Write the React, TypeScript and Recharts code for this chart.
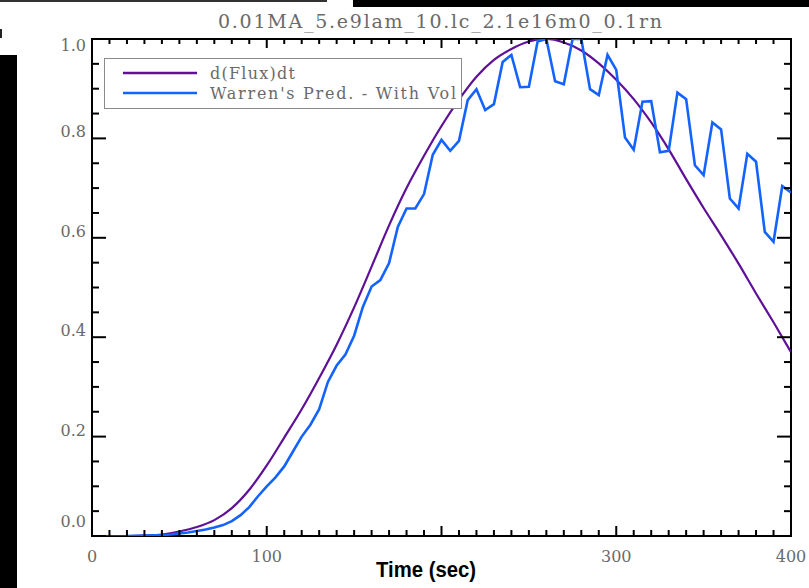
import React from 'react';
import { LineChart, Line, XAxis, YAxis, Legend, ReferenceArea } from 'recharts';

const TITLE = '0.01MA_5.e9lam_10.lc_2.1e16m0_0.1rn';
const X_LABEL = 'Time (sec)';
const FLUX_NAME = 'd(Flux)dt';
const WARREN_NAME = "Warren's Pred. - With Vol";

// d(Flux)dt, sampled every 10 s
const fluxTime = [
  0, 10, 20, 30, 40, 50, 60, 70, 80, 90, 100, 110, 120, 130, 140, 150, 160, 170, 180, 190, 200,
  210, 220, 230, 240, 250, 260, 270, 280, 290, 300, 310, 320, 330, 340, 350, 360, 370, 380, 390, 400,
];
const fluxValues = [
  0, 0, 0, 0.001, 0.003, 0.009, 0.018, 0.032, 0.056, 0.093, 0.142, 0.198, 0.255, 0.318, 0.385,
  0.46, 0.542, 0.625, 0.7, 0.765, 0.825, 0.878, 0.924, 0.958, 0.98, 0.995, 1.0, 0.993, 0.977,
  0.951, 0.918, 0.879, 0.832, 0.778, 0.718, 0.66, 0.605, 0.548, 0.488, 0.43, 0.37,
];

// Warren's prediction, sampled every 5 s
const warrenTime = [
  20, 25, 30, 35, 40, 45, 50, 55, 60, 65, 70, 75, 80, 85, 90, 95, 100, 105, 110, 115, 120, 125,
  130, 135, 140, 145, 150, 155, 160, 165, 170, 175, 180, 185, 190, 195, 200, 205, 210, 215, 220,
  225, 230, 235, 240, 245, 250, 255, 260, 265, 270, 275, 280, 285, 290, 295, 300, 305, 310, 315,
  320, 325, 330, 335, 340, 345, 350, 355, 360, 365, 370, 375, 380, 385, 390, 395, 400,
];
const warrenValues = [
  0, 0.0005, 0.001, 0.0015, 0.002, 0.003, 0.005, 0.007, 0.01, 0.013, 0.017, 0.022, 0.03, 0.042,
  0.058, 0.08, 0.1, 0.118, 0.14, 0.17, 0.2, 0.224, 0.255, 0.31, 0.343, 0.365, 0.403, 0.461, 0.502,
  0.515, 0.549, 0.622, 0.659, 0.659, 0.688, 0.767, 0.797, 0.775, 0.795, 0.877, 0.899, 0.857, 0.869,
  0.954, 0.968, 0.903, 0.904, 0.995, 1.0, 0.915, 0.909, 1.0, 1.0, 0.899, 0.887, 0.968, 0.938,
  0.802, 0.777, 0.874, 0.875, 0.772, 0.775, 0.892, 0.879, 0.746, 0.726, 0.832, 0.818, 0.679,
  0.659, 0.769, 0.753, 0.612, 0.592, 0.704, 0.691,
];

const xLabelTicks = [0, 100, 300, 400];
const xTicks = Array.from({ length: 41 }, (_, i) => i * 10);
const yTicks = Array.from({ length: 21 }, (_, i) => i * 0.05);

const fluxData = fluxTime.map((t, i) => ({ t, v: fluxValues[i] }));
const warrenData = warrenTime.map((t, i) => ({ t, v: warrenValues[i] }));

const PURPLE = '#5e1197';
const BLUE = '#1463ff';
const GRAY = '#6a6a6a';
const SERIF = '"DejaVu Serif", serif';
const LEGEND_ORDER = [FLUX_NAME, WARREN_NAME];
const LEGEND_TEXT_WIDTH: Record<string, number> = { [FLUX_NAME]: 85, [WARREN_NAME]: 246 };

const isMajorX = (v: number) => v % 100 === 0;
const isMajorY = (v: number) => Math.abs(v * 5 - Math.round(v * 5)) < 1e-6;

// IDL style: ticks point into the plot, labels outside
const BottomTick = ({ x, y, payload }: any) => {
  const v = payload.value;
  return (
    <g>
      <line x1={x} x2={x} y1={y} y2={y - (isMajorX(v) ? 10 : 6)} stroke="#000" strokeWidth={2} />
      {xLabelTicks.includes(v) && (
        <text x={x} y={y + 26} textAnchor="middle" fontFamily={SERIF} fontSize={16} fill={GRAY}>
          {v}
        </text>
      )}
    </g>
  );
};

const TopTick = ({ x, y, payload }: any) => (
  <line x1={x} x2={x} y1={y} y2={y + (isMajorX(payload.value) ? 9 : 5)} stroke="#000" strokeWidth={2} />
);

const LeftTick = ({ x, y, payload }: any) => {
  const v = payload.value;
  const major = isMajorY(v);
  let dy = -1;
  if (v > 0.99) dy = 12;
  if (v < 0.01) dy = -9;
  return (
    <g>
      <line x1={x} x2={x + (major ? 14 : 7)} y1={y} y2={y} stroke="#000" strokeWidth={2} />
      {major && (
        <text x={x - 6} y={y + dy} textAnchor="end" fontFamily={SERIF} fontSize={16} fill={GRAY}>
          {v.toFixed(1)}
        </text>
      )}
    </g>
  );
};

const RightTick = ({ x, y, payload }: any) => (
  <line x1={x} x2={x - (isMajorY(payload.value) ? 14 : 7)} y1={y} y2={y} stroke="#000" strokeWidth={2} />
);

const LegendBox = ({ payload }: any) => {
  const items = [...(payload || [])].sort(
    (a: any, b: any) => LEGEND_ORDER.indexOf(a.value) - LEGEND_ORDER.indexOf(b.value),
  );
  return (
    <svg width={358} height={51} style={{ display: 'block' }}>
      <rect x={0.5} y={0.5} width={357} height={50} fill="#fff" stroke="#8a8a8a" strokeWidth={1} />
      {items.map((item: any, i: number) => (
        <g key={item.value}>
          <line x1={19} x2={93} y1={15 + i * 20} y2={15 + i * 20} stroke={item.color} strokeWidth={2.5} />
          <text
            x={106}
            y={21 + i * 20}
            fontFamily={SERIF}
            fontSize={16}
            fill={GRAY}
            textLength={LEGEND_TEXT_WIDTH[item.value]}
            lengthAdjust="spacing"
          >
            {item.value}
          </text>
        </g>
      ))}
    </svg>
  );
};

const App: React.FC = () => {
  return (
    <div style={{ position: 'absolute', left: 0, top: 0, width: 809, height: 588, background: '#fff', overflow: 'hidden' }}>
      <div style={{ position: 'absolute', left: 0, top: 0, width: 327, height: 2, background: '#333' }} />
      <div style={{ position: 'absolute', left: 353, top: 0, width: 456, height: 7, background: '#000' }} />
      <div style={{ position: 'absolute', left: 0, top: 55, width: 17, height: 533, background: '#000' }} />
      <div style={{ position: 'absolute', left: 0, top: 29, width: 2, height: 9, background: '#222' }} />

      <svg width={809} height={40} style={{ position: 'absolute', left: 0, top: 0 }}>
        <text x={440} y={28} textAnchor="middle" fontFamily={SERIF} fontSize={19} fill={GRAY} textLength={444} lengthAdjust="spacing">
          {TITLE}
        </text>
      </svg>

      <div style={{ position: 'absolute', left: 0, top: 0 }}>
        <LineChart width={809} height={588} margin={{ top: 38, right: 17, bottom: 0, left: 0 }}>
          <XAxis
            dataKey="t"
            type="number"
            domain={[0, 400]}
            ticks={xTicks}
            interval={0}
            allowDataOverflow
            height={52}
            tickSize={0}
            tickMargin={0}
            tickLine={false}
            axisLine={false}
            tick={BottomTick}
          />
          <XAxis
            xAxisId="top"
            orientation="top"
            dataKey="t"
            type="number"
            domain={[0, 400]}
            ticks={xTicks}
            interval={0}
            allowDataOverflow
            height={1}
            tickSize={0}
            tickMargin={0}
            tickLine={false}
            axisLine={false}
            tick={TopTick}
          />
          <YAxis
            type="number"
            domain={[0, 1]}
            ticks={yTicks}
            interval={0}
            allowDataOverflow
            width={92}
            tickSize={0}
            tickMargin={0}
            tickLine={false}
            axisLine={false}
            tick={LeftTick}
          />
          <YAxis
            yAxisId="right"
            orientation="right"
            type="number"
            domain={[0, 1]}
            ticks={yTicks}
            interval={0}
            allowDataOverflow
            width={1}
            tickSize={0}
            tickMargin={0}
            tickLine={false}
            axisLine={false}
            tick={RightTick}
          />
          <ReferenceArea x1={0} x2={400} y1={0} y2={1} fill="none" stroke="#000" strokeWidth={2} ifOverflow="visible" />
          <Legend
            layout="horizontal"
            verticalAlign="middle"
            align="center"
            wrapperStyle={{ position: 'absolute', left: 104, top: 58, width: 358, height: 51 }}
            content={LegendBox}
          />
          <Line
            data={fluxData}
            dataKey="v"
            name={FLUX_NAME}
            type="monotone"
            stroke={PURPLE}
            strokeWidth={2.2}
            dot={false}
            activeDot={false}
            isAnimationActive={false}
          />
          <Line
            data={warrenData}
            dataKey="v"
            name={WARREN_NAME}
            type="linear"
            stroke={BLUE}
            strokeWidth={2.6}
            dot={false}
            activeDot={false}
            isAnimationActive={false}
          />
        </LineChart>
      </div>

      <svg width={809} height={40} style={{ position: 'absolute', left: 0, top: 548 }}>
        <text
          x={426}
          y={29}
          textAnchor="middle"
          fontFamily='"Liberation Sans Narrow", "Liberation Sans", Arial, sans-serif'
          fontWeight="bold"
          fontSize={22}
          fill="#000"
          textLength={100}
          lengthAdjust="spacingAndGlyphs"
        >
          {X_LABEL}
        </text>
      </svg>
    </div>
  );
};

export default App;
